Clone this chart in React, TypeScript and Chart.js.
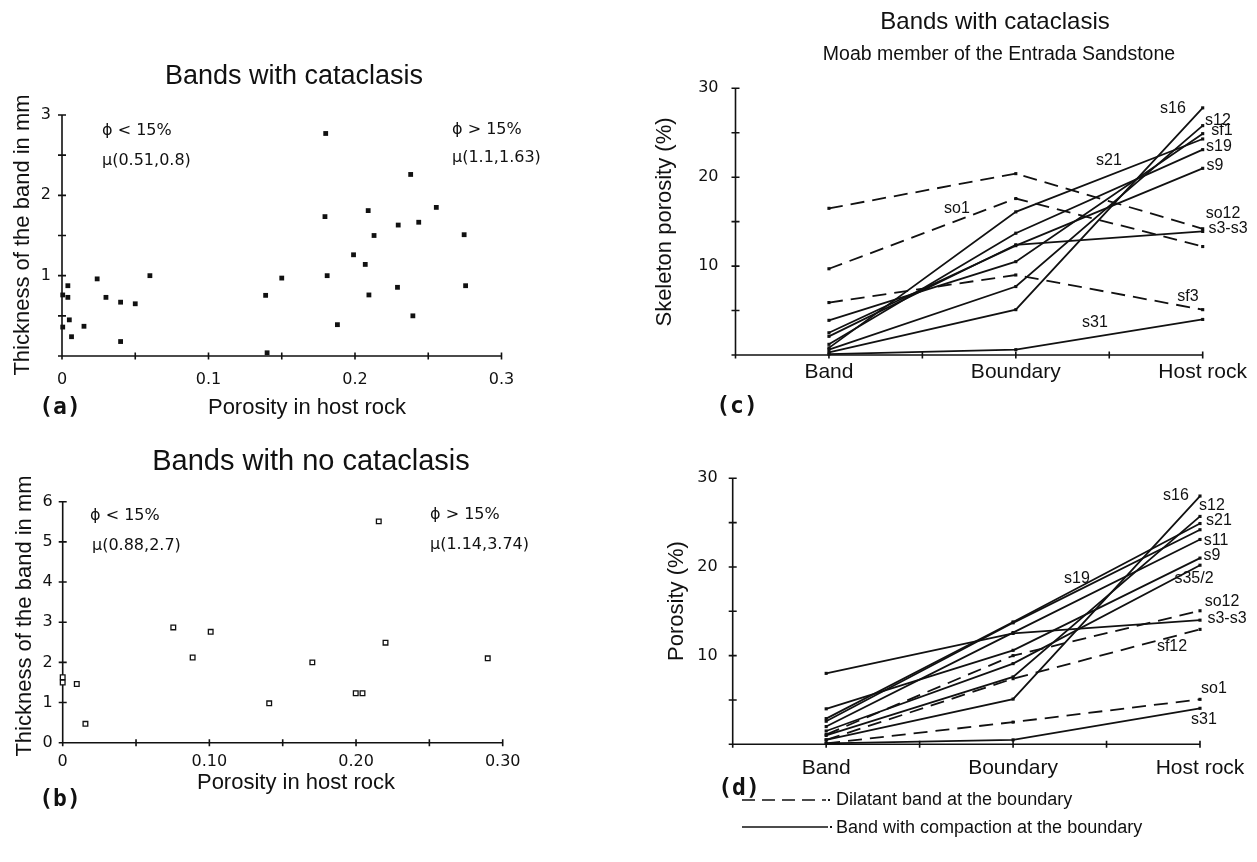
import React, { useEffect, useRef } from "react";
import { Chart, registerables } from "chart.js";

Chart.register(...registerables);

const W = 1257;
const H = 862;

// ---------------- Panel (a): bands with cataclasis ----------------
const aPorosity = [0.0005, 0.0005, 0.004, 0.004, 0.005, 0.0065, 0.015, 0.024, 0.03, 0.04, 0.04, 0.05, 0.06, 0.139, 0.14, 0.15, 0.18, 0.1795, 0.181, 0.188, 0.199, 0.207, 0.209, 0.2095, 0.213, 0.2295, 0.229, 0.238, 0.2395, 0.2435, 0.2555, 0.2745, 0.2755];
const aThickness = [0.76, 0.36, 0.875, 0.73, 0.45, 0.24, 0.37, 0.96, 0.73, 0.67, 0.18, 0.65, 1.0, 0.755, 0.04, 0.97, 2.77, 1.735, 1.0, 0.39, 1.26, 1.14, 1.81, 0.76, 1.5, 1.63, 0.855, 2.26, 0.5, 1.665, 1.85, 1.51, 0.875];
const aXTicks = [0, 0.05, 0.1, 0.15, 0.2, 0.25, 0.3];
const aXLabels = ["0", "", "0.1", "", "0.2", "", "0.3"];
const aYTicks = [0, 0.5, 1, 1.5, 2, 2.5, 3];
const aYLabels = ["", "", "1", "", "2", "", "3"];

// ---------------- Panel (b): bands with no cataclasis ----------------
const bPorosity = [0, 0, 0.0096, 0.0155, 0.0754, 0.0886, 0.1009, 0.1408, 0.1702, 0.1998, 0.2044, 0.2155, 0.2201, 0.2898];
const bThickness = [1.63, 1.5, 1.46, 0.47, 2.87, 2.12, 2.76, 0.98, 2.0, 1.23, 1.23, 5.51, 2.49, 2.1];
const bXTicks = [0, 0.05, 0.1, 0.15, 0.2, 0.25, 0.3];
const bXLabels = ["0", "", "0.10", "", "0.20", "", "0.30"];
const bYTicks = [0, 1, 2, 3, 4, 5, 6];
const bYLabels = ["0", "1", "2", "3", "4", "5", "6"];

// ---------------- Panels (c) and (d): profiles ----------------
const stages = ["Band", "Boundary", "Host rock"];
const stagePos = [1, 3, 5];
const profXTicks = [0, 1, 2, 3, 4, 5];
const profYTicks = [0, 5, 10, 15, 20, 25, 30];
const profYLabels = ["", "", "10", "", "20", "", "30"];

// (c) skeleton porosity (%)
const cNames = ["s16", "s12", "sf1", "s21", "s19", "s9", "s3-s3", "s31", "so12", "so1", "sf3"];
const cDashed = [false, false, false, false, false, false, false, false, true, true, true];
const cBand = [0.3, 0.6, 3.9, 0.8, 1.2, 2.5, 2.1, 0.1, 16.5, 9.7, 5.9];
const cBoundary = [5.1, 7.7, 10.5, 16.1, 13.7, 12.3, 12.4, 0.6, 20.4, 17.6, 9.0];
const cHost = [27.8, 25.8, 24.9, 24.3, 23.1, 21.0, 13.9, 4.0, 14.2, 12.2, 5.1];

// (d) porosity (%)
const dNames = ["s16", "s12", "s21", "s19", "s11", "s9", "s35/2", "s3-s3", "s31", "so12", "sf12", "so1"];
const dDashed = [false, false, false, false, false, false, false, false, false, true, true, true];
const dBand = [0.5, 1.0, 2.9, 2.6, 2.0, 4.0, 1.5, 8.0, 0.1, 1.1, 0.5, 0.1];
const dBoundary = [5.1, 7.6, 13.8, 13.7, 12.6, 10.6, 9.1, 12.5, 0.5, 10.0, 7.4, 2.5];
const dHost = [28.0, 25.7, 24.9, 24.2, 23.1, 21.0, 20.2, 14.0, 4.06, 15.06, 12.96, 5.07];

// ---------------- styling ----------------
const SANS = '"Liberation Sans", Arial, sans-serif';
const GEO = '"DejaVu Sans", sans-serif';
const MONO = '"DejaVu Sans Mono", monospace';
const INK = "#111";

type TextItem = { text: string; x: number; y: number; font: string; align?: CanvasTextAlign; rotate?: boolean };
type LegendLine = { x1: number; x2: number; y: number; dash: number[] };
type PanelDef = {
  area: { left: number; top: number; right: number; bottom: number };
  xMin: number; xMax: number; yMin: number; yMax: number;
  xTicks: number[]; xLabels: string[]; yTicks: number[]; yLabels: string[];
  xLabelDy: number; yLabelDx: number; xLabelFont: string; yLabelFont: string;
  datasets: any[];
  texts: TextItem[];
  legend?: LegendLine[];
};

const paperPlugin = (p: PanelDef) => ({
  id: "paperAxes",
  beforeDatasetsDraw(chart: any) {
    const ctx = chart.ctx as CanvasRenderingContext2D;
    const sx = chart.scales.x;
    const sy = chart.scales.y;
    const ox = sx.getPixelForValue(p.xMin);
    const oy = sy.getPixelForValue(p.yMin);
    const ex = sx.getPixelForValue(p.xMax);
    const ey = sy.getPixelForValue(p.yMax);
    ctx.save();
    ctx.strokeStyle = INK;
    ctx.lineWidth = 1.6;
    ctx.beginPath();
    ctx.moveTo(ox, oy);
    ctx.lineTo(ex, oy);
    ctx.moveTo(ox, oy);
    ctx.lineTo(ox, ey);
    p.xTicks.forEach((v) => {
      const x = sx.getPixelForValue(v);
      ctx.moveTo(x, oy - 3.5);
      ctx.lineTo(x, oy + 3.5);
    });
    p.yTicks.forEach((v) => {
      const y = sy.getPixelForValue(v);
      ctx.moveTo(ox - 4, y);
      ctx.lineTo(ox + 4, y);
    });
    ctx.stroke();
    ctx.fillStyle = INK;
    ctx.textBaseline = "middle";
    ctx.font = p.xLabelFont;
    ctx.textAlign = "center";
    p.xTicks.forEach((v, i) => {
      const t = p.xLabels[i];
      if (t) ctx.fillText(t, sx.getPixelForValue(v), oy + p.xLabelDy);
    });
    ctx.font = p.yLabelFont;
    ctx.textAlign = "right";
    p.yTicks.forEach((v, i) => {
      const t = p.yLabels[i];
      if (t) ctx.fillText(t, ox - p.yLabelDx, sy.getPixelForValue(v));
    });
    ctx.restore();
  },
  afterDraw(chart: any) {
    const ctx = chart.ctx as CanvasRenderingContext2D;
    ctx.save();
    ctx.fillStyle = INK;
    ctx.strokeStyle = INK;
    ctx.textBaseline = "middle";
    p.texts.forEach((t) => {
      ctx.font = t.font;
      ctx.textAlign = t.align || "center";
      if (t.rotate) {
        ctx.save();
        ctx.translate(t.x, t.y);
        ctx.rotate(-Math.PI / 2);
        ctx.fillText(t.text, 0, 0);
        ctx.restore();
      } else {
        ctx.fillText(t.text, t.x, t.y);
      }
    });
    (p.legend || []).forEach((l) => {
      ctx.lineWidth = 1.4;
      ctx.setLineDash(l.dash);
      ctx.beginPath();
      ctx.moveTo(l.x1, l.y);
      ctx.lineTo(l.x2, l.y);
      ctx.stroke();
      ctx.setLineDash([]);
      ctx.fillRect(l.x2 + 2, l.y - 1, 2, 2);
    });
    ctx.restore();
  },
});

const scatterSet = (xs: number[], ys: number[], open: boolean) => ({
  data: xs.map((x, i) => ({ x, y: ys[i] })),
  pointStyle: "rect",
  pointRadius: open ? 3.3 : 3.4,
  pointBackgroundColor: open ? "#fff" : INK,
  pointBorderColor: INK,
  pointBorderWidth: open ? 1.3 : 0,
  showLine: false,
  clip: false,
});

const profileSets = (names: string[], dashed: boolean[], band: number[], boundary: number[], host: number[]) =>
  names.map((n, i) => ({
    label: n,
    data: [band[i], boundary[i], host[i]].map((v, k) => ({ x: stagePos[k], y: v })),
    showLine: true,
    borderColor: INK,
    borderWidth: 1.8,
    borderDash: dashed[i] ? [14, 8] : [],
    pointStyle: "rect",
    pointRadius: 2.2,
    pointBackgroundColor: INK,
    pointBorderWidth: 0,
    tension: 0,
    clip: false,
  }));

const stageLabels = profXTicks.map((v) => {
  const k = stagePos.indexOf(v);
  return k >= 0 ? stages[k] : "";
});

const TICKF = `16px ${GEO}`;
const NOTEF = `16px ${GEO}`;
const SERIESF = `16px ${SANS}`;
const PANELF = `bold 23px ${MONO}`;

const panels: PanelDef[] = [
  {
    area: { left: 62, top: 115, right: 501.5, bottom: 356 },
    xMin: 0, xMax: 0.3, yMin: 0, yMax: 3,
    xTicks: aXTicks, xLabels: aXLabels, yTicks: aYTicks, yLabels: aYLabels,
    xLabelDy: 24, yLabelDx: 11, xLabelFont: TICKF, yLabelFont: TICKF,
    datasets: [scatterSet(aPorosity, aThickness, false)],
    texts: [
      { text: "Bands with cataclasis", x: 294, y: 77, font: `27px ${SANS}` },
      { text: "\u03D5 < 15%", x: 102, y: 131, font: NOTEF, align: "left" },
      { text: "\u03BC(0.51,0.8)", x: 102, y: 161, font: NOTEF, align: "left" },
      { text: "\u03D5 > 15%", x: 452, y: 130, font: NOTEF, align: "left" },
      { text: "\u03BC(1.1,1.63)", x: 452, y: 158, font: NOTEF, align: "left" },
      { text: "Thickness of the band in mm", x: 23, y: 235, font: `22px ${SANS}`, rotate: true },
      { text: "Porosity in host rock", x: 307, y: 408, font: `22px ${SANS}` },
      { text: "(a)", x: 60, y: 408, font: PANELF },
    ],
  },
  {
    area: { left: 62.7, top: 501.7, right: 502.7, bottom: 742.7 },
    xMin: 0, xMax: 0.3, yMin: 0, yMax: 6,
    xTicks: bXTicks, xLabels: bXLabels, yTicks: bYTicks, yLabels: bYLabels,
    xLabelDy: 19, yLabelDx: 10, xLabelFont: TICKF, yLabelFont: TICKF,
    datasets: [scatterSet(bPorosity, bThickness, true)],
    texts: [
      { text: "Bands with no cataclasis", x: 311, y: 462, font: `29px ${SANS}` },
      { text: "\u03D5 < 15%", x: 90, y: 516, font: NOTEF, align: "left" },
      { text: "\u03BC(0.88,2.7)", x: 92, y: 546, font: NOTEF, align: "left" },
      { text: "\u03D5 > 15%", x: 430, y: 515, font: NOTEF, align: "left" },
      { text: "\u03BC(1.14,3.74)", x: 430, y: 545, font: NOTEF, align: "left" },
      { text: "Thickness of the band in mm", x: 25, y: 616, font: `22px ${SANS}`, rotate: true },
      { text: "Porosity in host rock", x: 296, y: 783, font: `22px ${SANS}` },
      { text: "(b)", x: 60, y: 800, font: PANELF },
    ],
  },
  {
    area: { left: 735.5, top: 88.3, right: 1202.7, bottom: 355 },
    xMin: 0, xMax: 5, yMin: 0, yMax: 30,
    xTicks: profXTicks, xLabels: stageLabels, yTicks: profYTicks, yLabels: profYLabels,
    xLabelDy: 17, yLabelDx: 17, xLabelFont: `21px ${SANS}`, yLabelFont: TICKF,
    datasets: profileSets(cNames, cDashed, cBand, cBoundary, cHost),
    texts: [
      { text: "Bands with cataclasis", x: 995, y: 22, font: `24px ${SANS}` },
      { text: "Moab member of the Entrada Sandstone", x: 999, y: 55, font: `19.5px ${SANS}` },
      { text: "Skeleton porosity (%)", x: 665, y: 222, font: `22px ${SANS}`, rotate: true },
      { text: "(c)", x: 737, y: 407, font: PANELF },
      { text: "s16", x: 1173, y: 109, font: SERIESF },
      { text: "s12", x: 1218, y: 121, font: SERIESF },
      { text: "sf1", x: 1222, y: 131, font: SERIESF },
      { text: "s19", x: 1219, y: 147, font: SERIESF },
      { text: "s9", x: 1215, y: 166, font: SERIESF },
      { text: "s21", x: 1109, y: 161, font: SERIESF },
      { text: "so12", x: 1223, y: 214, font: SERIESF },
      { text: "s3-s3", x: 1228, y: 229, font: SERIESF },
      { text: "sf3", x: 1188, y: 297, font: SERIESF },
      { text: "s31", x: 1095, y: 323, font: SERIESF },
      { text: "so1", x: 957, y: 209, font: SERIESF },
    ],
  },
  {
    area: { left: 732.7, top: 478.3, right: 1200, bottom: 744.3 },
    xMin: 0, xMax: 5, yMin: 0, yMax: 30,
    xTicks: profXTicks, xLabels: stageLabels, yTicks: profYTicks, yLabels: profYLabels,
    xLabelDy: 24, yLabelDx: 15, xLabelFont: `21px ${SANS}`, yLabelFont: TICKF,
    datasets: profileSets(dNames, dDashed, dBand, dBoundary, dHost),
    texts: [
      { text: "Porosity (%)", x: 677, y: 601, font: `22px ${SANS}`, rotate: true },
      { text: "(d)", x: 739, y: 789, font: PANELF },
      { text: "s16", x: 1176, y: 496, font: SERIESF },
      { text: "s12", x: 1212, y: 506, font: SERIESF },
      { text: "s21", x: 1219, y: 521, font: SERIESF },
      { text: "s11", x: 1216, y: 541, font: SERIESF },
      { text: "s9", x: 1212, y: 556, font: SERIESF },
      { text: "s35/2", x: 1194, y: 579, font: SERIESF },
      { text: "s19", x: 1077, y: 579, font: SERIESF },
      { text: "so12", x: 1222, y: 602, font: SERIESF },
      { text: "s3-s3", x: 1227, y: 619, font: SERIESF },
      { text: "sf12", x: 1172, y: 647, font: SERIESF },
      { text: "so1", x: 1214, y: 689, font: SERIESF },
      { text: "s31", x: 1204, y: 720, font: SERIESF },
      { text: "Dilatant band at the boundary", x: 836, y: 800, font: `18px ${SANS}`, align: "left" },
      { text: "Band with compaction at the boundary", x: 836, y: 828, font: `18px ${SANS}`, align: "left" },
    ],
    legend: [
      { x1: 742, x2: 826, y: 800, dash: [13, 7] },
      { x1: 742, x2: 828, y: 827, dash: [] },
    ],
  },
];

function Panel({ def }: { def: PanelDef }) {
  const ref = useRef<HTMLCanvasElement | null>(null);
  useEffect(() => {
    if (!ref.current) return;
    const a = def.area;
    const chart = new Chart(ref.current, {
      type: "scatter",
      data: { datasets: def.datasets },
      options: {
        animation: false,
        responsive: false,
        devicePixelRatio: 1,
        events: [],
        layout: {
          autoPadding: false,
          padding: { left: a.left, top: a.top, right: W - a.right, bottom: H - a.bottom },
        },
        scales: {
          x: { type: "linear", display: false, min: def.xMin, max: def.xMax },
          y: { type: "linear", display: false, min: def.yMin, max: def.yMax },
        },
        plugins: { legend: { display: false }, tooltip: { enabled: false }, title: { display: false } },
      },
      plugins: [paperPlugin(def)],
    } as any);
    return () => chart.destroy();
  }, [def]);
  return (
    <canvas
      ref={ref}
      width={W}
      height={H}
      style={{ position: "absolute", left: 0, top: 0, width: W, height: H }}
    />
  );
}

export default function App() {
  return (
    <div style={{ position: "absolute", left: 0, top: 0, width: W, height: H, background: "#fff", overflow: "hidden" }}>
      {panels.map((p, i) => (
        <Panel key={i} def={p} />
      ))}
    </div>
  );
}
